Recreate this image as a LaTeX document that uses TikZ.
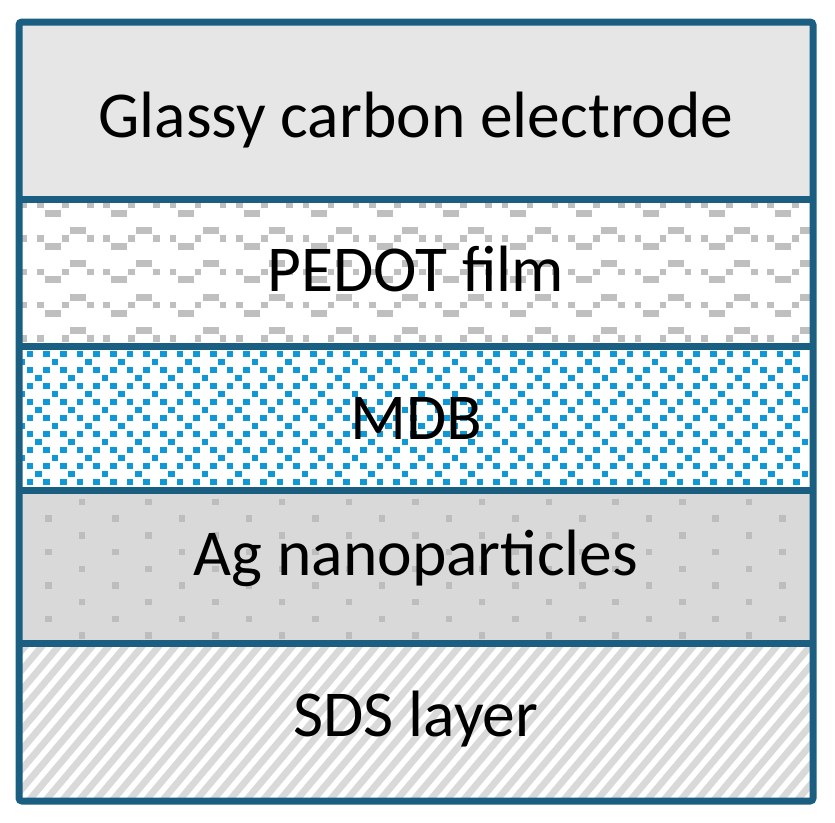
\documentclass[tikz,border=0pt]{standalone}
\usepackage{fontspec}
\setmainfont{Carlito}
\definecolor{framec}{HTML}{1A5F82}
\definecolor{gcefill}{HTML}{E7E6E6}
\definecolor{wavec}{HTML}{BFBFBF}
\definecolor{mdbc}{HTML}{0E98D6}
\definecolor{agfill}{HTML}{D9D9D9}
\definecolor{agdot}{HTML}{BDBDBD}
\definecolor{sdsc}{HTML}{D9D9D9}
\tikzset{
  lbl/.style={font=\fontsize{65.5}{78}\selectfont, text=black, anchor=base, inner sep=0pt},
  frameline/.style={draw=framec, line width=7pt},
}
\begin{document}
\begin{tikzpicture}[x=1pt,y=-1pt]
\useasboundingbox (0,0) rectangle (835,822);
% Glassy carbon electrode
\fill[gcefill] (19,22) rectangle (813,199);
% PEDOT film
\begin{scope}
  \clip (19,199) rectangle (813,346);
  \fill[white] (19,199) rectangle (813,346);
  \foreach \k in {-1,...,4} {
    \foreach \j in {-1,...,12} {
      \pgfmathsetmacro\xo{37+66.4*\j}
      \pgfmathsetmacro\yc{238.5+33.3*\k}
      \fill[wavec] (\xo,{\yc-3.25}) rectangle ++(6.5,6.5);
      \fill[wavec] ({\xo+8},{\yc+4.5}) rectangle ++(16,7);
      \fill[wavec] ({\xo+25},{\yc-3.25}) rectangle ++(6.5,6.5);
      \fill[wavec] ({\xo+33},{\yc-11.5}) rectangle ++(16,7);
      \fill[wavec] ({\xo+50},{\yc-3.25}) rectangle ++(6.5,6.5);
    }
  }
\end{scope}
% MDB
\begin{scope}
  \clip (19,346) rectangle (813,490);
  \fill[white] (19,346) rectangle (813,490);
  \foreach \r in {0,...,8} {
    \pgfmathsetmacro\yf{354+16*\r}
    \pgfmathsetmacro\yi{362+16*\r}
    \pgfmathsetmacro\off{mod(\r+1,2)}
    \foreach \i in {-1,...,48} {
      \fill[mdbc] ({30+16.667*\i-3.25},{\yf-3.25}) rectangle ++(6.5,6.5);
    }
    \foreach \m in {-1,...,24} {
      \fill[mdbc] ({38.33+16.667*(2*\m+\off)-3.25},{\yi-3.25}) rectangle ++(6.5,6.5);
    }
  }
\end{scope}
% Ag nanoparticles
\begin{scope}
  \clip (19,490) rectangle (813,643);
  \fill[agfill] (19,490) rectangle (813,643);
  \foreach \r in {0,...,8} {
    \pgfmathsetmacro\ya{502+16.7*\r}
    \pgfmathsetmacro\sh{33.35*mod(\r,2)}
    \foreach \i in {-1,...,12} {
      \fill[agdot] ({82+66.7*\i-\sh-3.25},{\ya-3.25}) rectangle ++(6.5,6.5);
    }
  }
\end{scope}
% SDS layer
\begin{scope}
  \clip (19,643) rectangle (813,801);
  \fill[white] (19,643) rectangle (813,801);
  \foreach \n in {-14,...,50} {
    \draw[sdsc, line width=6.8pt] ({16.7*\n},815) -- ++(160,-190);
  }
\end{scope}
% separators and frame
\draw[frameline] (19,199) -- (813,199);
\draw[frameline] (19,346) -- (813,346);
\draw[frameline] (19,490) -- (813,490);
\draw[frameline] (19,643) -- (813,643);
\draw[frameline, rounded corners=3pt] (19,22) rectangle (813,801);
% labels
\node[lbl] (gce) at (416,137) {Glassy carbon electrode};
\node[lbl] (pedot) at (416,291) {PEDOT film};
\node[lbl] (mdb) at (416,439) {MDB};
\node[lbl] (ag) at (416,575) {Ag nanoparticles};
\node[lbl] (sds) at (416,736) {SDS layer};
\end{tikzpicture}
\end{document}
